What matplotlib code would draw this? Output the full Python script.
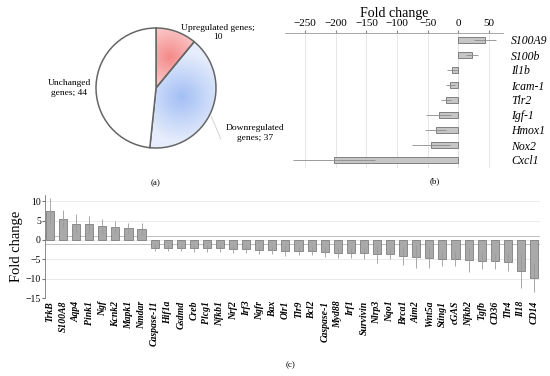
import numpy as np
import matplotlib
matplotlib.use('Agg')
import matplotlib.pyplot as plt
from matplotlib.colors import LinearSegmentedColormap

plt.rcParams['font.family'] = ['Liberation Serif', 'DejaVu Serif']

# (a) pie
pie_labels = ['Upregulated genes;\n10', 'Downregulated\ngenes; 37', 'Unchanged\ngenes; 44']
pie_counts = [10, 37, 44]

# (b) big fold changes
b_genes = ['S100A9', 'S100b', 'Il1b', 'Icam-1', 'Tlr2', 'Igf-1', 'Hmox1', 'Nox2', 'Cxcl1']
b_fc = [44, 22, -10, -13, -20, -32, -37, -45, -203]
b_err = [18, 10, 8, 7, 8, 20, 17, 31, 67]

# (c) the rest
c_genes = ['TrkB', 'S100A8', 'Aqp4', 'Pink1', 'Ngf', 'Kcnk2', 'Mapk1', 'Nmdar',
           'Caspase-11', 'Hif1a', 'Gsdmd', 'Creb', 'Plcg1', 'Nfkb1', 'Nrf2', 'Irf3',
           'Ngfr', 'Bax', 'Olr1', 'Tlr9', 'Bcl2', 'Caspase-1', 'Myd88', 'Irf1',
           'Survivin', 'Nlrp3', 'Nqo1', 'Brca1', 'Aim2', 'Wnt5a', 'Sting1', 'cGAS',
           'Nfkb2', 'Tgfb', 'CD36', 'Tlr4', 'Il18', 'CD14']
c_fc = [7.5, 5.4, 4.2, 4.0, 3.6, 3.4, 3.0, 2.8,
        -2.0, -2.0, -2.1, -2.1, -2.2, -2.2, -2.3, -2.4,
        -2.6, -2.7, -2.9, -2.9, -2.9, -3.1, -3.3, -3.3,
        -3.5, -3.7, -3.6, -4.2, -4.3, -4.6, -4.8, -4.8,
        -5.2, -5.5, -5.5, -5.7, -7.9, -9.8]
c_err = [3.3, 2.3, 2.5, 2.1, 1.7, 1.5, 1.4, 1.5,
         0.9, 0.8, 0.8, 0.9, 0.8, 0.8, 1.0, 1.0,
         1.0, 0.9, 1.3, 1.1, 1.1, 1.3, 1.3, 1.3,
         1.5, 2.2, 1.4, 2.4, 2.9, 2.7, 1.9, 1.9,
         3.0, 2.0, 1.9, 2.4, 4.4, 3.7]

fig = plt.figure(figsize=(5.5, 3.76), dpi=100)

# ---- pie
ax = fig.add_axes([96/550, 1-148/376, 120/550, 120/376])
wedges, _ = ax.pie(pie_counts, startangle=90, counterclock=False, radius=1,
                   colors=['none', 'none', 'white'],
                   wedgeprops=dict(edgecolor='#666666', linewidth=1.1))
grads = [((0.23, 0.52), '#f58a8a', '#fde6e6'), ((0.43, -0.15), '#a3bff5', '#e6edfc')]
xx, yy = np.meshgrid(np.linspace(-1, 1, 200), np.linspace(1, -1, 200))
for w, (cen, c0, c1) in zip(wedges[:2], grads):
    d = np.sqrt((xx-cen[0])**2 + (yy-cen[1])**2)
    cm = LinearSegmentedColormap.from_list('g', [c0, c1])
    im = ax.imshow(np.clip(d/0.75, 0, 1), cmap=cm, vmin=0, vmax=1,
                   extent=[-1, 1, -1, 1], zorder=0.5)
    im.set_clip_path(w)
ax.set_xlim(-1, 1)
ax.set_ylim(-1, 1)
ax.text(1.03, 0.92, pie_labels[0], ha='center', va='center', fontsize=6.8, clip_on=False)
ax.text(1.65, -0.75, pie_labels[1], ha='center', va='center', fontsize=6.8, clip_on=False)
ax.text(-1.45, 0.0, pie_labels[2], ha='center', va='center', fontsize=6.8, clip_on=False)
ax.plot([0.92, 1.08], [-0.47, -0.85], color='#cccccc', lw=0.6, clip_on=False)
fig.text(156/550, 1-183/376, '(a)', ha='center', va='center', fontsize=6.5)

# ---- (b)
ax = fig.add_axes([285/550, 1-167.5/376, 218/550, 135/376])
yb = np.arange(len(b_genes))
ax.barh(yb, b_fc, height=0.45, color='#c6c6c6', edgecolor='#707070', linewidth=0.6, zorder=2)
ax.errorbar(b_fc, yb, xerr=b_err, fmt='none', ecolor='#8c8c8c', elinewidth=0.6, zorder=3)
ax.set_ylim(len(b_genes)-0.5, -0.5)
ax.set_xlim(-283, 73)
ax.set_xticks([-250, -200, -150, -100, -50, 0, 50])
ax.set_xticklabels(['\u2212250', '\u2212200', '\u2212150', '\u2212100', '\u221250', '0', '50'])
ax.xaxis.tick_top()
ax.xaxis.set_label_position('top')
ax.set_xlabel('Fold change', fontsize=10, labelpad=2)
ax.tick_params(axis='x', labelsize=8, length=2, color='#888888', pad=1)
ax.yaxis.tick_right()
ax.set_yticks(yb)
ax.set_yticklabels(b_genes, fontstyle='italic', fontsize=8.5)
ax.tick_params(axis='y', length=0, pad=6)
ax.grid(axis='x', color='#e3e3e3', lw=0.6, zorder=0)
ax.axvline(0, color='#cfcfcf', lw=0.6, zorder=1)
for s in ['left', 'right', 'bottom']:
    ax.spines[s].set_visible(False)
ax.spines['top'].set_color('#999999')
ax.spines['top'].set_linewidth(0.6)
fig.text(435/550, 1-181/376, '(b)', ha='center', va='center', fontsize=6.5)

# ---- (c)
ax = fig.add_axes([45/550, 1-298/376, 495/550, 103/376])
xc = np.arange(len(c_genes))
ax.bar(xc, c_fc, width=0.62, color='#a9a9a9', edgecolor='#6e6e6e', linewidth=0.5, zorder=2)
ax.errorbar(xc, c_fc, yerr=c_err, fmt='none', ecolor='#9a9a9a', elinewidth=0.6, zorder=3)
ax.set_xlim(-0.38, len(c_genes)-0.54)
ax.set_ylim(-15, 11.6)
ax.set_yticks([10, 5, 0, -5, -10, -15])
ax.set_yticklabels(['10', '5', '0', '\u22125', '\u221210', '\u221215'])
ax.tick_params(axis='y', labelsize=7, length=2, pad=1, color='#777777')
ax.set_xticks(xc)
ax.set_xticklabels(c_genes, rotation=90, fontstyle='italic', fontweight='bold', fontsize=7)
ax.tick_params(axis='x', length=0, pad=2)
ax.set_ylabel('Fold change', fontsize=10.5, labelpad=2)
ax.grid(axis='y', color='#e6e6e6', lw=0.6, zorder=0)
ax.axhline(1, color='#b5b5b5', lw=0.6, zorder=1)
ax.axhline(-1, color='#b5b5b5', lw=0.6, zorder=1)
for s in ['top', 'right', 'bottom']:
    ax.spines[s].set_visible(False)
ax.spines['left'].set_color('#777777')
ax.spines['left'].set_linewidth(0.6)
fig.text(291/550, 1-365/376, '(c)', ha='center', va='center', fontsize=6.5)

fig.savefig('out.png', dpi=100)
